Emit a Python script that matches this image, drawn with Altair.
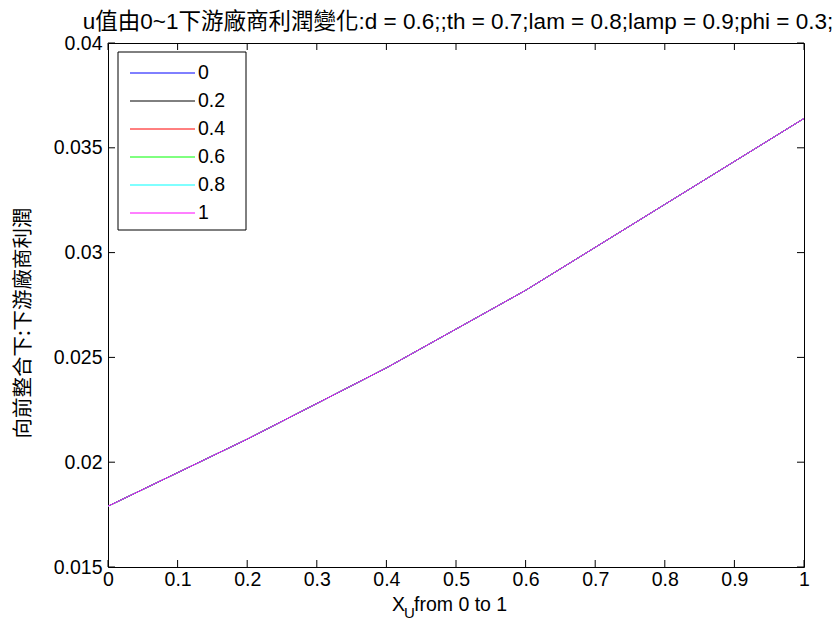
import altair as alt
import pandas as pd

# u values (one series each) and the shared profit curve over X_U
series_names = ["0", "0.2", "0.4", "0.6", "0.8", "1"]
series_colors = ["#0000FF", "#000000", "#FF0000", "#00FF00", "#00FFFF", "#FF00FF"]
x_values = [0.0, 0.2, 0.4, 0.6, 0.8, 1.0]
profit_values = [0.0179, 0.0211, 0.0245, 0.0282, 0.0323, 0.0364]

x_ticks = [0, 0.1, 0.2, 0.3, 0.4, 0.5, 0.6, 0.7, 0.8, 0.9, 1]
y_ticks = [0.015, 0.02, 0.025, 0.03, 0.035, 0.04]

W, H = 696, 524
FONT = "Liberation Sans, Noto Sans CJK TC, sans-serif"
CJK = "Noto Sans CJK TC, sans-serif"
FS = 19.5

rows = []
for name in series_names:
    for xv, yv in zip(x_values, profit_values):
        rows.append({"u": name, "x": xv, "y": yv})
df = pd.DataFrame(rows)

xs = alt.Scale(domain=[0, 1], nice=False, zero=False)
ys = alt.Scale(domain=[0.015, 0.04], nice=False, zero=False)

x_axis = alt.Axis(values=x_ticks, format="~g", ticks=False, domain=False, grid=False,
                  labelFont=FONT, labelFontSize=FS, labelColor="black", labelPadding=3,
                  labelFlush=False, title=None)
y_axis = alt.Axis(values=y_ticks, format="~g", ticks=False, domain=False, grid=False,
                  labelFont=FONT, labelFontSize=FS, labelColor="black", labelPadding=6,
                  title=None)

lines = alt.Chart(df).mark_line(strokeWidth=1).encode(
    x=alt.X("x:Q", scale=xs, axis=x_axis),
    y=alt.Y("y:Q", scale=ys, axis=y_axis),
    color=alt.Color("u:N", scale=alt.Scale(domain=series_names, range=series_colors),
                    legend=None),
    order=alt.Order("x:Q"),
)

# inward ticks on all four sides
xt = pd.DataFrame({"t": x_ticks})
yt = pd.DataFrame({"t": y_ticks})
tick_len = 7
xb = alt.Chart(xt).mark_rule(color="black").encode(
    x=alt.X("t:Q", scale=xs), y=alt.value(H), y2=alt.value(H - tick_len))
xtop = alt.Chart(xt).mark_rule(color="black").encode(
    x=alt.X("t:Q", scale=xs), y=alt.value(0), y2=alt.value(tick_len))
yl = alt.Chart(yt).mark_rule(color="black").encode(
    y=alt.Y("t:Q", scale=ys), x=alt.value(0), x2=alt.value(tick_len))
yr = alt.Chart(yt).mark_rule(color="black").encode(
    y=alt.Y("t:Q", scale=ys), x=alt.value(W), x2=alt.value(W - tick_len))

# legend box
leg = pd.DataFrame({"name": series_names, "color": series_colors,
                    "row": list(range(len(series_names)))})
leg["py"] = 30 + leg["row"] * 28
box = alt.Chart(pd.DataFrame({"a": [0]})).mark_rect(
    fill="white", stroke="black", strokeWidth=1).encode(
    x=alt.value(10), x2=alt.value(138), y=alt.value(9), y2=alt.value(187))
leg_lines = alt.Chart(leg).mark_rule(strokeWidth=1).encode(
    x=alt.value(22), x2=alt.value(87),
    y=alt.Y("py:Q", scale=None),
    color=alt.Color("color:N", scale=None))
leg_text = alt.Chart(leg).mark_text(
    align="left", baseline="middle", font=FONT, fontSize=FS, color="black").encode(
    x=alt.value(90), y=alt.Y("py:Q", scale=None), text="name:N")

# axis titles
one = pd.DataFrame({"a": [0]})
ytitle = alt.Chart(one).mark_text(
    text="向前整合下:下游廠商利潤", angle=270, font=CJK, fontSize=20.5,
    align="center", baseline="middle", color="black").encode(
    x=alt.value(-84), y=alt.value(280))
xt_X = alt.Chart(one).mark_text(
    text="X", align="left", baseline="alphabetic", font=FONT, fontSize=FS,
    color="black").encode(x=alt.value(284), y=alt.value(568))
xt_U = alt.Chart(one).mark_text(
    text="U", align="left", baseline="alphabetic", font=FONT, fontSize=15,
    color="black").encode(x=alt.value(296), y=alt.value(575))
xt_rest = alt.Chart(one).mark_text(
    text="from 0 to 1", align="left", baseline="alphabetic", font=FONT, fontSize=FS,
    color="black").encode(x=alt.value(306), y=alt.value(568))
title = alt.Chart(one).mark_text(
    text="u值由0~1下游廠商利潤變化:d = 0.6;;th = 0.7;lam = 0.8;lamp = 0.9;phi = 0.3;",
    align="center", baseline="alphabetic", font=FONT, fontSize=22.5,
    color="black").encode(x=alt.value(W / 2 + 2), y=alt.value(-14))

chart = alt.layer(
    lines, xb, xtop, yl, yr, box, leg_lines, leg_text,
    ytitle, xt_X, xt_U, xt_rest, title
).properties(
    width=W, height=H,
    autosize=alt.AutoSizeParams(type="none"),
    padding={"left": 108, "top": 43, "right": 30, "bottom": 57},
    background="white",
).configure_view(stroke="black", strokeWidth=1)

chart.save("out.html", embed_options={"renderer": "svg", "actions": False})
